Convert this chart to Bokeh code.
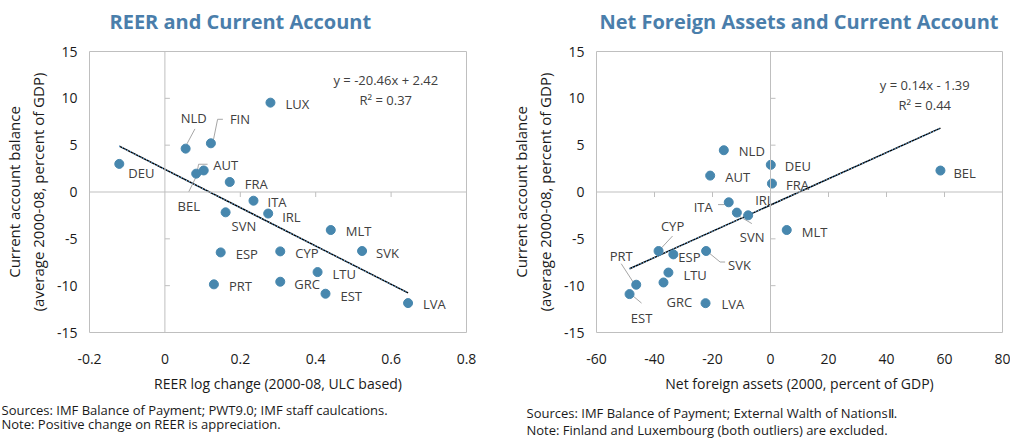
from bokeh.plotting import figure
from bokeh.models import Range1d, Label, Span, ColumnDataSource, FixedTicker, Title
from bokeh.layouts import row
from bokeh.embed import file_html
from bokeh.resources import INLINE
from bokeh.core.properties import value

# ---------------- data: REER chart ----------------
reer_countries = ["LUX", "FIN", "NLD", "DEU", "AUT", "BEL", "FRA", "ITA", "SVN", "IRL",
                  "MLT", "SVK", "ESP", "CYP", "LTU", "PRT", "GRC", "EST", "LVA"]
reer_change = [0.28, 0.122, 0.055, -0.121, 0.083, 0.103, 0.172, 0.235, 0.161, 0.274,
               0.44, 0.523, 0.148, 0.306, 0.405, 0.13, 0.306, 0.426, 0.645]
reer_ca = [9.54, 5.2, 4.63, 3.0, 1.96, 2.3, 1.07, -0.93, -2.17, -2.3,
           -4.06, -6.3, -6.45, -6.34, -8.55, -9.86, -9.58, -10.86, -11.86]
reer_slope, reer_intercept, reer_r2 = -20.46, 2.42, 0.37
reer_xticks = [-0.2, 0.0, 0.2, 0.4, 0.6, 0.8]
reer_xtick_labels = ["-0.2", "0", "0.2", "0.4", "0.6", "0.8"]

# ---------------- data: NFA chart ----------------
nfa_countries = ["NLD", "DEU", "AUT", "FRA", "BEL", "ITA", "SVN", "IRL", "MLT", "CYP",
                 "ESP", "SVK", "LTU", "PRT", "GRC", "LVA", "EST"]
nfa_assets = [-16.1, 0.1, -20.8, 0.5, 58.6, -14.4, -11.6, -7.7, 5.6, -38.6,
              -33.5, -22.2, -35.2, -46.3, -36.9, -22.4, -48.6]
nfa_ca = [4.46, 2.9, 1.75, 0.9, 2.29, -1.1, -2.2, -2.49, -4.06, -6.3,
          -6.66, -6.3, -8.6, -9.9, -9.66, -11.87, -10.9]
nfa_slope, nfa_intercept, nfa_r2 = 0.14, -1.39, 0.44
nfa_xticks = [-60, -40, -20, 0, 20, 40, 60, 80]
nfa_xtick_labels = ["-60", "-40", "-20", "0", "20", "40", "60", "80"]

yticks = [-15, -10, -5, 0, 5, 10, 15]
ytick_labels = ["-15", "-10", "-5", "0", "5", "10", "15"]

# ---------------- label placement (pixel offsets, styling only) ----------------
reer_label_style = {
    "LUX": (15, 1, "left", None),
    "FIN": (19, -24, "left", [(2.7, -4.3), (6.7, -24), (12, -24)]),
    "NLD": (8, -31, "center", [(1.3, -4.7), (9.3, -19.7)]),
    "DEU": (9, 9, "left", None),
    "AUT": (17, -9, "left", [(1, -2), (2.4, -9.4), (11.4, -9.4)]),
    "BEL": (-15, 36, "center", [(-4, -1), (-15, 21.4)]),
    "FRA": (15, 2, "left", None),
    "ITA": (14, 1, "left", None),
    "SVN": (6, 14, "left", None),
    "IRL": (14, 3, "left", None),
    "MLT": (15, 1, "left", None),
    "SVK": (14, 2, "left", None),
    "ESP": (15, 2, "left", None),
    "CYP": (15, 2, "left", None),
    "LTU": (15, 2, "left", None),
    "PRT": (15, 2, "left", None),
    "GRC": (14, 2, "left", None),
    "EST": (15, 2, "left", None),
    "LVA": (15, 1, "left", None),
}
nfa_label_style = {
    "NLD": (15, 1, "left", None),
    "DEU": (14, 1, "left", None),
    "AUT": (15, 1, "left", None),
    "FRA": (14, 1, "left", None),
    "BEL": (13, 2, "left", None),
    "ITA": (-16, 5, "right", [(-10.7, 2.3), (-4, 2.3)]),
    "SVN": (3, 24, "left", [(-2, 1), (15, 11)]),
    "IRL": (7, -15, "left", None),
    "MLT": (15, 2, "left", None),
    "CYP": (14, -25, "center", [(1, -1), (14, -15)]),
    "ESP": (5, 3, "left", None),
    "SVK": (22, 14, "left", [(3, 2), (14, 11), (19, 11)]),
    "LTU": (15, 2, "left", None),
    "PRT": (-15, -29, "center", [(-15, -21), (-2, -1)]),
    "GRC": (3, 20, "left", None),
    "LVA": (16, 1, "left", None),
    "EST": (12, 24, "center", [(0, -1), (12, 9)]),
}

FONT = "Open Sans"
TITLE_COLOR = "#4A7EAB"
POINT_COLOR = "#4787AE"
GREY = "#BFBFBF"
LABEL_COLOR = "#404040"
TEXT_COLOR = "#1a1a1a"


def make_chart(title, xlabel, countries, xs, ys, slope, intercept, r2,
               xr, xticks, xtick_labels, styles, fw, fh, border_left, border_right,
               title_offset, eq_pos, notes, note_offset, note_standoff, note_lh):
    p = figure(frame_width=fw, frame_height=fh,
               min_border_left=border_left, min_border_right=border_right,
               min_border_top=0, min_border_bottom=0,
               x_range=Range1d(*xr), y_range=Range1d(-15, 15),
               output_backend="svg", toolbar_location=None)
    p.background_fill_color = "white"
    p.border_fill_color = "white"
    p.outline_line_color = GREY
    p.outline_line_width = 1
    p.grid.visible = False

    p.title.text = title
    p.title.text_font = FONT
    p.title.text_font_size = "20px"
    p.title.text_font_style = "bold"
    p.title.text_color = TITLE_COLOR
    p.title.align = "left"
    p.title.vertical_align = "bottom"
    p.title.offset = title_offset
    p.title.standoff = 33

    sx = fw / (xr[1] - xr[0])
    sy = fh / 30.0

    for ax in (p.xaxis[0], p.yaxis[0]):
        ax.axis_line_color = None
        ax.major_tick_line_color = None
        ax.minor_tick_line_color = None
        ax.major_tick_out = 0
        ax.major_tick_in = 0
        ax.major_label_text_font = FONT
        ax.major_label_text_font_size = "14px"
        ax.major_label_text_color = TEXT_COLOR
        ax.axis_label_text_font = FONT
        ax.axis_label_text_font_style = "normal"
        ax.axis_label_text_color = TEXT_COLOR

    p.xaxis.ticker = FixedTicker(ticks=xticks)
    p.xaxis.major_label_overrides = {t: l for t, l in zip(xticks, xtick_labels)}
    p.xaxis.major_label_standoff = 21
    p.xaxis.axis_label = xlabel
    p.xaxis.axis_label_text_font_size = "14px"
    p.xaxis.axis_label_standoff = 7

    p.yaxis.ticker = FixedTicker(ticks=yticks)
    p.yaxis.major_label_overrides = {t: l for t, l in zip(yticks, ytick_labels)}
    p.yaxis.major_label_standoff = 12
    p.yaxis.axis_label = "Current account balance\n(average 2000-08, percent of GDP)"
    p.yaxis.axis_label_text_font_size = "15px"
    p.yaxis.axis_label_standoff = 6

    # zero lines
    p.add_layout(Span(location=0, dimension="height", line_color=GREY, line_width=1))
    p.add_layout(Span(location=0, dimension="width", line_color=GREY, line_width=1))

    # tick marks on the zero lines
    tl = 5
    inner_y = [t for t in yticks if t not in (yticks[0], yticks[-1], 0)]
    p.segment(x0=[0] * len(inner_y), y0=inner_y, x1=[tl / sx] * len(inner_y), y1=inner_y,
              line_color=GREY, line_width=1)
    inner_x = [t for t in xticks if t not in (xticks[0], xticks[-1], 0)]
    p.segment(x0=inner_x, y0=[0] * len(inner_x), x1=inner_x, y1=[-tl / sy] * len(inner_x),
              line_color=GREY, line_width=1)

    # trend line (black with light-blue dotted overlay)
    x_lo, x_hi = min(xs), max(xs)
    tx = [x_lo, x_hi]
    ty = [slope * x_lo + intercept, slope * x_hi + intercept]
    p.line(tx, ty, line_color="black", line_width=1.4)
    p.line(tx, ty, line_color="#6AAEE6", line_width=1.4, line_dash="1 2")

    # leader lines
    lxs, lys = [], []
    for c, x, y in zip(countries, xs, ys):
        lead = styles[c][3]
        if lead:
            lxs.append([x + dx / sx for dx, dy in lead])
            lys.append([y - dy / sy for dx, dy in lead])
    if lxs:
        p.multi_line(lxs, lys, line_color="#A6A6A6", line_width=1)

    # points
    p.scatter(xs, ys, size=9, fill_color=POINT_COLOR, line_color=POINT_COLOR)

    # data labels
    src = ColumnDataSource(dict(
        x=xs, y=ys, name=countries,
        dx=[styles[c][0] for c in countries],
        dy=[styles[c][1] for c in countries],
        align=[styles[c][2] for c in countries],
    ))
    p.text(x="x", y="y", text="name", x_offset="dx", y_offset="dy", text_align="align",
           text_baseline="middle", text_font=value(FONT), text_font_size="13px",
           text_color=LABEL_COLOR, source=src)

    # equation
    sign = "+" if intercept >= 0 else "-"
    eq = f"y = {slope:.2f}x {sign} {abs(intercept):.2f}"
    p.add_layout(Label(x=eq_pos[0], y=eq_pos[1], text=eq, text_align="center",
                       text_baseline="middle", text_font=FONT, text_font_size="13px",
                       text_color=LABEL_COLOR))
    p.add_layout(Label(x=eq_pos[0], y=eq_pos[2], text=f"R\u00b2 = {r2:.2f}", text_align="center",
                       text_baseline="middle", text_font=FONT, text_font_size="13px",
                       text_color=LABEL_COLOR))

    # notes below (one two-line title)
    t = Title(text="\n".join(notes), align="left", offset=note_offset,
              standoff=note_standoff, text_font=FONT, text_font_size="13px",
              text_font_style="normal", text_color=TEXT_COLOR, text_line_height=note_lh)
    p.add_layout(t, "below")
    return p


p1 = make_chart("REER and Current Account", "REER log change (2000-08, ULC based)",
                reer_countries, reer_change, reer_ca, reer_slope, reer_intercept, reer_r2,
                (-0.2, 0.8), reer_xticks, reer_xtick_labels, reer_label_style,
                377, 281, 88, 41, 20, (0.586, 12.0, 9.86),
                ["Sources: IMF Balance of Payment; PWT9.0; IMF staff caulcations.",
                 "Note: Positive change on REER is appreciation."], -88, 7, 0.8)

p2 = make_chart("Net Foreign Assets and Current Account", "Net foreign assets (2000, percent of GDP)",
                nfa_countries, nfa_assets, nfa_ca, nfa_slope, nfa_intercept, nfa_r2,
                (-60, 80), nfa_xticks, nfa_xtick_labels, nfa_label_style,
                406, 281, 88, 8, 3, (53.2, 11.4, 9.27),
                ["Sources: IMF Balance of Payment; External Walth of Nations\u2161.",
                 "Note: Finland and Luxembourg (both outliers) are excluded."], -70, 13, 0.95)

layout = row(p1, p2, styles={"margin-top": "-11px"})
open("out.html", "w").write(file_html(layout, INLINE))
